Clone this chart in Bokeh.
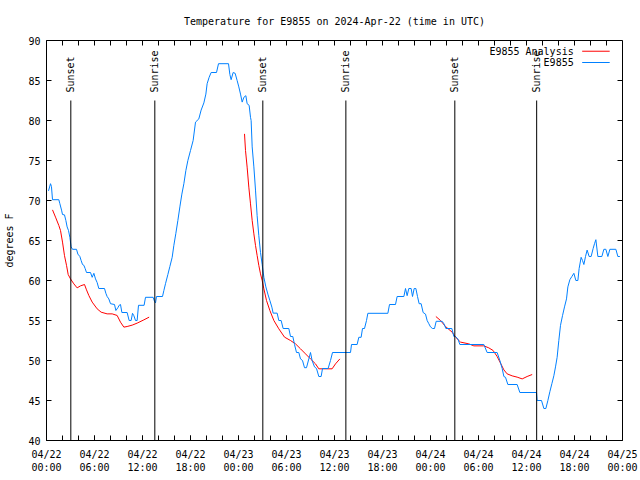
import math
from bokeh.plotting import figure
from bokeh.models import FixedTicker, Range1d
from bokeh.core.properties import value
from bokeh.embed import file_html
from bokeh.resources import INLINE

FONT = "DejaVu Sans Mono"
NAN = float("nan")

# ---------------- data (hours since 2024-04-22 00:00 UTC, degrees F) ----------------
title_text = "Temperature for E9855 on 2024-Apr-22 (time in UTC)"
y_label = "degrees F"

x_tick_hours = [0, 6, 12, 18, 24, 30, 36, 42, 48, 54, 60, 66, 72]
x_tick_labels = ["04/22\n00:00", "04/22\n06:00", "04/22\n12:00", "04/22\n18:00",
                 "04/23\n00:00", "04/23\n06:00", "04/23\n12:00", "04/23\n18:00",
                 "04/24\n00:00", "04/24\n06:00", "04/24\n12:00", "04/24\n18:00",
                 "04/25\n00:00"]
x_minor_hours = list(range(0, 73, 2))
y_ticks = [40, 45, 50, 55, 60, 65, 70, 75, 80, 85, 90]

sun_times = [3.04, 13.54, 27.04, 37.42, 51.04, 61.27]
sun_labels = ["Sunset", "Sunrise", "Sunset", "Sunrise", "Sunset", "Sunrise"]

analysis_hours = [0.75, 1.125, 1.54, 1.75, 2.0, 2.25, 2.5, 2.71, 3.0, 3.42, 3.83, 4.25,
                  4.75, 5.0, 5.29, 5.71, 6.33, 6.83, 7.58, 8.21, 8.83, 9.25, 9.67, 10.08,
                  10.71, 11.33, 12.17, 12.83,
                  NAN,
                  24.75, 24.875, 25.08, 25.29, 25.5, 25.71, 25.92, 26.125, 26.33, 26.54,
                  26.75, 26.96, 27.17, 27.5, 27.92, 28.42, 29.04, 29.75, 30.5, 31.125,
                  31.75, 32.375, 33.0, 33.625, 34.04, 35.7, 36.125, 36.67,
                  NAN,
                  48.67, 49.25, 49.875, 50.71, 51.125, 51.75, 52.79, 53.42, 54.67, 55.29,
                  55.83, 56.33, 56.75, 57.17, 57.58, 58.21, 58.83, 59.46, 60.08, 60.71]
analysis_temps = [68.83, 67.92, 66.88, 66.25, 64.8, 63.1, 61.9, 60.75, 60.2, 59.58, 59.08, 59.33,
                  59.5, 58.83, 58.13, 57.3, 56.46, 56.04, 55.83, 55.83, 55.63, 54.79, 54.17, 54.25,
                  54.42, 54.67, 55.08, 55.42,
                  NAN,
                  78.33, 76.25, 74.17, 71.67, 69.58, 67.5, 65.83, 64.38, 63.13, 61.88,
                  60.83, 60.0, 58.96, 57.5, 56.25, 55.0, 53.96, 52.92, 52.5, 52.08,
                  51.46, 50.83, 50.2, 49.58, 48.96, 48.96, 49.58, 50.2,
                  NAN,
                  55.5, 55.0, 54.25, 53.54, 52.92, 52.3, 52.08, 51.83, 51.83, 51.58,
                  51.25, 50.5, 49.67, 48.83, 48.33, 48.08, 47.92, 47.7, 48.0, 48.25]

obs_hours = [0.25, 0.5, 0.62, 0.75, 1.54, 1.67, 1.88, 2.0, 2.25, 2.42, 2.58, 2.75, 2.92,
             3.08, 3.25, 3.75, 3.92, 4.17, 4.33, 4.5, 4.67, 4.83, 5.0, 5.5, 5.71, 5.92,
             6.125, 6.33, 6.54, 7.25, 7.42, 7.58, 7.79, 8.0, 8.5, 8.67, 8.92, 9.08, 9.25,
             9.42, 10.08, 10.33, 10.58, 10.75, 10.92, 11.125, 11.33, 11.5, 12.2, 12.375,
             13.33, 13.5, 13.625, 13.75, 14.5, 14.67, 14.875, 15.17, 15.42, 15.71, 15.92,
             16.17, 16.42, 16.67, 16.92, 17.17, 17.42, 17.67, 18.0, 18.33, 18.625, 19.04,
             19.33, 19.67, 19.92, 20.08, 20.33, 20.58, 21.25, 21.5, 22.75, 22.92, 23.08,
             23.33, 23.58, 23.83, 24.04, 24.25, 24.46, 24.67, 24.92, 25.08, 25.33, 25.5,
             25.58, 25.71, 25.92, 26.125, 26.33, 26.54, 26.75, 26.96, 27.17, 27.42, 27.67,
             27.92, 28.17, 28.33, 28.83, 29.04, 29.33, 29.58, 30.29, 30.5, 30.79, 31.0,
             31.25, 31.54, 31.75, 32.0, 32.25, 32.5, 32.79, 33.0, 33.2, 33.5, 33.75, 34.04,
             34.33, 34.5, 35.2, 35.5, 35.75, 38.0, 38.125, 38.83, 39.04, 39.33, 39.5,
             39.75, 40.0, 40.17, 42.67, 42.875, 43.625, 43.83, 44.67, 44.875, 45.08,
             45.29, 45.58, 45.75, 45.96, 46.17, 46.375, 46.58, 46.83, 47.08, 47.375,
             47.58, 47.79, 48.0, 48.25, 48.5, 48.71, 49.46, 49.67, 49.92, 50.67, 50.92,
             51.125, 51.42, 51.67, 54.67, 55.08, 56.33, 56.67, 56.96, 57.17, 57.375,
             57.67, 58.83, 59.17, 61.25, 61.33, 61.875, 62.17, 62.42, 62.67, 62.92,
             63.17, 63.42, 63.625, 63.83, 64.04, 64.25, 64.5, 64.75, 65.0, 65.17, 65.42,
             65.67, 65.92, 66.17, 66.42, 66.58, 66.83, 67.0, 67.17, 67.375, 67.58, 67.83,
             68.08, 68.33, 68.5, 68.67, 68.92, 69.42, 69.67, 69.92, 70.17, 70.42, 71.17,
             71.42, 71.67]
obs_temps = [71.2, 72.1, 71.75, 70.1, 70.1, 69.6, 68.8, 68.25, 68.2, 67.5, 66.7, 66.25, 65.4,
             64.2, 63.9, 63.9, 63.3, 63.0, 62.5, 62.0, 61.9, 61.5, 61.0, 61.0, 60.4, 60.9,
             60.2, 59.75, 59.0, 59.0, 58.4, 58.0, 57.7, 57.1, 57.0, 56.25, 56.6, 56.9, 57.0,
             56.0, 56.0, 55.0, 55.0, 55.9, 55.6, 55.0, 55.0, 56.9, 56.9, 57.9,
             57.9, 57.4, 57.2, 58.0, 58.0, 58.75, 59.6, 60.75, 61.75, 62.9, 64.4,
             65.9, 67.5, 69.2, 70.8, 72.1, 73.75, 75.0, 76.25, 77.5, 79.8, 80.2,
             81.3, 82.2, 83.3, 84.6, 85.4, 86.0, 86.0, 87.1, 87.1, 85.75, 85.1,
             86.0, 85.9, 85.0, 84.2, 83.3, 82.3, 82.9, 83.1, 82.1, 81.9, 80.4,
             80.0, 76.7, 74.2, 71.3, 68.1, 65.6, 63.5, 62.0, 60.4, 59.2, 58.3,
             57.5, 56.67, 55.92, 55.92, 55.0, 55.0, 54.0, 54.0, 53.0, 53.0, 52.0,
             51.0, 51.0, 50.2, 50.0, 49.1, 49.1, 50.2, 51.0, 50.0, 49.2, 49.0, 48.0,
             48.0, 49.0, 49.0, 50.0, 51.0, 51.0, 52.0, 52.0, 52.9, 52.9, 54.0,
             54.0, 55.0, 55.9, 55.9, 57.0, 57.0, 58.0, 58.0, 59.0, 58.1,
             59.0, 59.0, 58.0, 59.0, 59.0, 58.0, 57.1, 57.1, 56.0, 55.8,
             55.0, 54.6, 54.2, 54.0, 54.0, 54.9, 54.9, 54.6, 54.0, 54.0, 53.0,
             53.0, 52.7, 52.0, 52.0, 51.0, 51.0, 50.0, 49.0, 48.0, 47.9,
             47.0, 47.0, 46.0, 46.0, 45.0, 45.0, 44.0, 44.0, 45.0, 46.1,
             47.1, 48.1, 49.2, 50.4, 52.5, 54.4, 55.6, 56.7, 57.7, 59.2, 60.1,
             60.5, 60.9, 60.0, 60.0, 61.5, 62.9, 62.5, 62.0, 63.0, 63.8, 63.0,
             63.0, 64.0, 64.6, 65.1, 63.0, 63.0, 63.9, 63.9, 63.0, 63.9, 63.9,
             63.0, 63.0]

legend_labels = ["E9855 Analysis", "E9855"]
legend_colors = ["#ff0000", "#0080ff"]

X_MIN, X_MAX = 0, 72
Y_MIN, Y_MAX = 40, 90

# ---------------- figure ----------------
p = figure(width=640, height=480, x_range=Range1d(X_MIN, X_MAX), y_range=Range1d(Y_MIN, Y_MAX),
           output_backend="svg", toolbar_location=None,
           min_border_left=46, min_border_right=18, min_border_top=40, min_border_bottom=40)
p.background_fill_color = "white"
p.border_fill_color = "white"
p.outline_line_color = "black"
p.outline_line_width = 1
p.xgrid.visible = False
p.ygrid.visible = False

p.title.text = title_text
p.title.align = "center"
p.title.text_font = FONT
p.title.text_font_size = "10px"
p.title.text_font_style = "normal"
p.title.text_color = "black"
p.title.standoff = 27

x_ticker = FixedTicker(ticks=x_tick_hours, minor_ticks=x_minor_hours)
y_ticker = FixedTicker(ticks=y_ticks, minor_ticks=[])

xa = p.xaxis[0]
xa.ticker = x_ticker
xa.major_label_overrides = {h: lab for h, lab in zip(x_tick_hours, x_tick_labels)}
ya = p.yaxis[0]
ya.ticker = y_ticker
ya.axis_label = y_label

for ax in (xa, ya):
    ax.axis_line_color = None
    ax.major_tick_in = 5
    ax.major_tick_out = 0
    ax.minor_tick_in = 5
    ax.minor_tick_out = 0
    ax.major_tick_line_color = "black"
    ax.minor_tick_line_color = "black"
    ax.major_label_text_font = FONT
    ax.major_label_text_font_size = "10px"
    ax.major_label_text_color = "black"
    ax.axis_label_text_font = FONT
    ax.axis_label_text_font_size = "10px"
    ax.axis_label_text_font_style = "normal"
    ax.axis_label_text_color = "black"
xa.major_label_standoff = 8
ya.major_label_standoff = 6
ya.axis_label_standoff = 10

# mirrored inward ticks on the top and right edges (gnuplot style), at the tick positions
TICK_X = 5 / 8 * (X_MAX - X_MIN) / 72   # 5 px in hours
TICK_Y = 5 / 8 * (Y_MAX - Y_MIN) / 50   # 5 px in degrees
p.segment(x0=x_minor_hours, y0=[Y_MAX] * len(x_minor_hours), x1=x_minor_hours,
          y1=[Y_MAX - TICK_Y] * len(x_minor_hours), line_color="black", line_width=1)
p.segment(x0=[X_MAX] * len(y_ticks), y0=y_ticks, x1=[X_MAX - TICK_X] * len(y_ticks), y1=y_ticks,
          line_color="black", line_width=1)

# data lines
p.line(analysis_hours, analysis_temps, line_color=legend_colors[0], line_width=1)
p.line(obs_hours, obs_temps, line_color=legend_colors[1], line_width=1)

# sunrise / sunset markers
SUN_LINE_TOP = 82.5
SUN_TEXT_Y = 83.5
p.segment(x0=sun_times, y0=[Y_MIN] * len(sun_times), x1=sun_times,
          y1=[SUN_LINE_TOP] * len(sun_times), line_color="black", line_width=1)
p.text(x=sun_times, y=[SUN_TEXT_Y] * len(sun_times), text=sun_labels, angle=math.pi / 2,
       text_align="left", text_baseline="middle", text_font=value(FONT),
       text_font_size="10px", text_color="black")

# legend (gnuplot style: label on the left, sample on the right)
LEG_TEXT_X = 65.9
LEG_X0, LEG_X1 = 66.96, 70.4
LEG_Y = [88.66, 87.25]
p.text(x=[LEG_TEXT_X] * 2, y=LEG_Y, text=legend_labels, text_align="right",
       text_baseline="middle", text_font=value(FONT), text_font_size="10px", text_color="black")
p.segment(x0=[LEG_X0] * 2, y0=LEG_Y, x1=[LEG_X1] * 2, y1=LEG_Y, line_color=legend_colors,
          line_width=1)

open("out.html", "w").write(file_html(p, INLINE))
